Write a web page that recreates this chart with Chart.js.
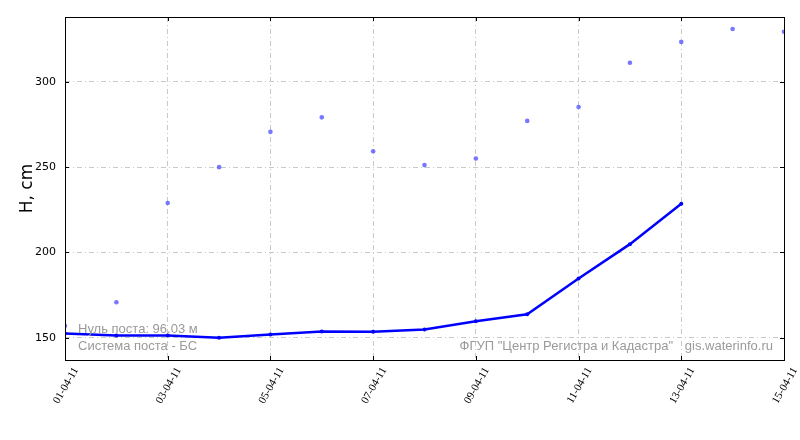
<!DOCTYPE html>
<html>
<head>
<meta charset="utf-8">
<script src="https://cdn.jsdelivr.net/npm/chart.js@4/dist/chart.umd.min.js"></script>
<style>
  html, body { margin: 0; padding: 0; background: #fff; }
  #wrap { width: 800px; height: 440px; }
</style>
</head>
<body>
<div id="wrap"><canvas id="chart"></canvas></div>
<script>
// days of April 2011 and their tick labels
const days       = [1, 2, 3, 4, 5, 6, 7, 8, 9, 10, 11, 12, 13, 14, 15];
const dayLabels  = ['01-04-11', '02-04-11', '03-04-11', '04-04-11', '05-04-11',
                    '06-04-11', '07-04-11', '08-04-11', '09-04-11', '10-04-11',
                    '11-04-11', '12-04-11', '13-04-11', '14-04-11', '15-04-11'];
const xTickDays  = [1, 3, 5, 7, 9, 11, 13, 15];
const yTicks     = [150, 200, 250, 300];

// water level, cm (line runs until 13-04)
const levelLine  = [152.5, 151.3, 151.3, 150.0, 152.0, 153.7, 153.5, 154.9, 159.7, 163.8, 184.8, 204.9, 228.5];
// scattered points
const levelDots  = [157.0, 170.8, 229.0, 250.0, 270.7, 279.2, 259.3, 251.2, 255.1, 277.1, 285.3, 311.2, 323.4, 331.0, 329.4];

const GRID = '#c4ccc4';

/* ----------------------------------------------------------
   Frame, inward ticks and captions
   ---------------------------------------------------------- */
const framePlugin = {
  id: 'frame',
  afterDraw(chart) {
    const { ctx, chartArea: a, scales: { x, y } } = chart;
    ctx.save();
    ctx.strokeStyle = '#000';
    ctx.lineWidth = 1;
    ctx.strokeRect(a.left + 0.5, a.top + 0.5, a.right - a.left, a.bottom - a.top);
    ctx.beginPath();
    xTickDays.forEach(d => {
      const px = Math.round(x.getPixelForValue(d)) + 0.5;
      ctx.moveTo(px, a.bottom); ctx.lineTo(px, a.bottom - 4);
      ctx.moveTo(px, a.top);    ctx.lineTo(px, a.top + 4);
    });
    yTicks.forEach(v => {
      const py = Math.round(y.getPixelForValue(v)) + 0.5;
      ctx.moveTo(a.left, py);  ctx.lineTo(a.left + 4, py);
      ctx.moveTo(a.right, py); ctx.lineTo(a.right - 4, py);
    });
    ctx.stroke();

    ctx.fillStyle = '#9a9a9a';
    ctx.font = '13px "Liberation Sans", Arial, sans-serif';
    ctx.textBaseline = 'middle';
    ctx.textAlign = 'left';
    ctx.fillText('Нуль поста: 96.03 м', a.left + 13, a.bottom - 31);
    ctx.fillText('Система поста - БС', a.left + 13, a.bottom - 14);
    ctx.textAlign = 'right';
    ctx.fillText('ФГУП "Центр Регистра и Кадастра"', a.right - 111, a.bottom - 14);
    ctx.fillText('gis.waterinfo.ru', a.right - 11, a.bottom - 14);
    ctx.restore();
  }
};

new Chart(document.getElementById('chart'), {
  type: 'line',
  data: {
    datasets: [
      {
        label: 'H',
        data: levelLine.map((v, i) => ({ x: days[i], y: v })),
        borderColor: '#0000ff',
        backgroundColor: '#0000ff',
        borderWidth: 2.5,
        pointRadius: 2,
        pointBorderWidth: 0,
        tension: 0,
        order: 1,
      },
      {
        label: 'dots',
        data: levelDots.map((v, i) => ({ x: days[i], y: v })),
        showLine: false,
        backgroundColor: 'rgba(95,95,255,0.85)',
        borderColor: 'rgba(95,95,255,0.85)',
        pointRadius: 2.3,
        pointBorderWidth: 0,
        order: 2,
      },
    ],
  },
  options: {
    responsive: true,
    maintainAspectRatio: false,
    animation: false,
    layout: { padding: { top: 17, right: 16, left: 0, bottom: 0 } },
    plugins: { legend: { display: false }, tooltip: { enabled: false } },
    scales: {
      x: {
        type: 'linear',
        min: 1, max: 15,
        afterBuildTicks: s => { s.ticks = xTickDays.map(v => ({ value: v })); },
        afterFit: s => { s.height = 80; s.paddingLeft = 0; s.paddingRight = 0; },
        grid: { color: GRID, lineWidth: 1, drawTicks: false },
        border: { display: false, dash: [5, 3, 1, 3] },
        ticks: {
          autoSkip: false,
          maxRotation: 60, minRotation: 60,
          padding: 5,
          labelOffset: 11,
          color: '#000',
          font: { family: '"Liberation Serif", "DejaVu Serif", serif', size: 11 },
          callback: v => dayLabels[v - 1],
        },
      },
      y: {
        min: 137, max: 338,
        afterBuildTicks: s => { s.ticks = yTicks.map(v => ({ value: v })); },
        afterFit: s => { s.width = 65; s.paddingTop = 0; s.paddingBottom = 0; },
        grid: { color: GRID, lineWidth: 1, drawTicks: false },
        border: { display: false, dash: [5, 3, 1, 3] },
        title: {
          display: true,
          text: 'H, cm',
          color: '#000',
          font: { family: '"DejaVu Sans", sans-serif', size: 17 },
          padding: { top: 17, bottom: 0 },
        },
        ticks: {
          padding: 9,
          color: '#000',
          font: { family: '"DejaVu Sans", sans-serif', size: 11 },
        },
      },
    },
  },
  plugins: [framePlugin],
});
</script>
</body>
</html>
